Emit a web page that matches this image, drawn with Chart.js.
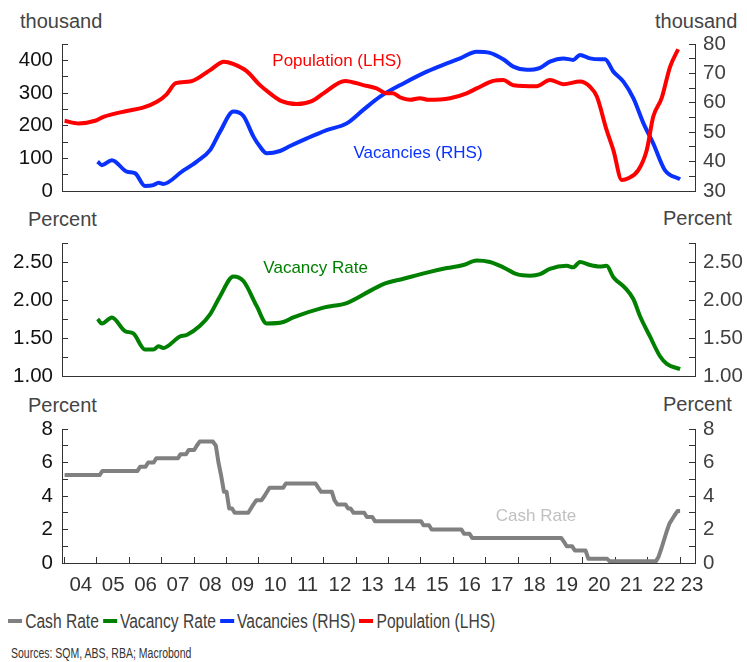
<!DOCTYPE html>
<html>
<head>
<meta charset="utf-8">
<script src="https://cdn.jsdelivr.net/npm/chart.js@4.4.1/dist/chart.umd.min.js"></script>
<style>
    body { margin: 0; background: #fff; width: 747px; height: 662px; position: relative; overflow: hidden;
           font-family: 'Liberation Sans', Arial, sans-serif; }
    canvas { position: absolute; left: 0; }
    .unit { position: absolute; font-size: 20px; line-height: 20px; color: #444; white-space: nowrap; }
    #legend { position: absolute; left: 8px; top: 609px; height: 24px; display: flex; align-items: center;
              font-size: 20px; color: #404040; white-space: nowrap; transform: scaleX(0.78); transform-origin: 0 0; }
    #legend .item { display: flex; align-items: center; margin-right: 5px; }
    #legend .mark { width: 18px; height: 4px; margin-right: 4px; }
    #sources { position: absolute; left: 11px; top: 646px; font-size: 14px; line-height: 14px; color: #333;
               white-space: nowrap; transform: scaleX(0.75); transform-origin: 0 0; }
</style>
</head>
<body>
<div class="unit" style="left:20px;top:11px">thousand</div>
<div class="unit" style="left:655px;top:11px">thousand</div>
<div class="unit" style="left:28px;top:209px">Percent</div>
<div class="unit" style="left:663px;top:208px">Percent</div>
<div class="unit" style="left:28px;top:395px">Percent</div>
<div class="unit" style="left:663px;top:394px">Percent</div>

<canvas id="top" width="747" height="205" style="top:0"></canvas>
<canvas id="mid" width="747" height="195" style="top:200px"></canvas>
<canvas id="bot" width="747" height="210" style="top:390px"></canvas>

<div id="legend"></div>
<div id="sources">Sources: SQM, ABS, RBA; Macrobond</div>

<script>
// x axis: decimal years
const yearLabels = ['04','05','06','07','08','09','10','11','12','13','14','15','16','17','18','19','20','21','22','23'];
const X_MIN = 2003.92, X_MAX = 2023.46;

// Population (LHS, thousand)
const popYears = [2004.0, 2004.43, 2004.94, 2005.2, 2005.92, 2006.42, 2006.85, 2007.15, 2007.43, 2007.87,
    2008.49, 2008.92, 2009.2, 2009.62, 2010.03, 2010.34, 2010.7, 2011.17, 2011.63, 2011.99,
    2012.66, 2013.22, 2013.63, 2013.94, 2014.14, 2014.35, 2014.66, 2014.97, 2015.23, 2015.9,
    2016.41, 2016.72, 2017.23, 2017.54, 2017.85, 2018.57, 2018.98, 2019.4, 2019.91, 2020.22,
    2020.43, 2020.73, 2020.94, 2021.2, 2021.4, 2021.71, 2021.97, 2022.17, 2022.43, 2022.69, 2022.94];
const popValues = [215, 207, 215, 227, 245, 255, 273, 296, 330, 335,
    370, 396, 389, 367, 324, 299, 275, 266, 275, 299,
    337, 324, 314, 299, 299, 287, 279, 284, 279, 284,
    299, 314, 337, 340, 324, 321, 340, 327, 335, 319,
    289, 187, 125, 34, 39, 64, 125, 227, 284, 380, 434];

// Vacancies (RHS, thousand)
const vacYears = [2005.02, 2005.15, 2005.46, 2005.92, 2006.18, 2006.48, 2006.74, 2006.9, 2007.05, 2007.62,
    2008.08, 2008.49, 2008.8, 2009.21, 2009.52, 2009.83, 2010.03, 2010.24, 2010.65, 2010.96,
    2011.48, 2012.09, 2012.71, 2013.22, 2013.74, 2014.46, 2015.18, 2015.8, 2016.21, 2016.72,
    2017.13, 2017.54, 2017.85, 2018.26, 2018.68, 2018.98, 2019.4, 2019.7, 2019.91, 2020.22,
    2020.53, 2020.68, 2020.94, 2021.25, 2021.56, 2021.87, 2022.17, 2022.53, 2023.0];
const vacValues = [40.0, 38.8, 40.5, 36.6, 36.0, 31.7, 32.0, 32.8, 32.4, 36.6,
    40.0, 43.9, 50.2, 57.0, 55.5, 48.5, 45.1, 42.8, 43.6, 45.3,
    47.9, 50.7, 53.0, 57.6, 62.1, 66.6, 70.6, 73.4, 75.1, 77.4,
    77.0, 74.8, 72.3, 71.2, 71.9, 74.0, 75.1, 74.6, 76.3, 75.1,
    74.8, 74.8, 70.6, 67.2, 61.5, 53.0, 46.2, 37.1, 34.0];

// Vacancy rate (percent)
const rateYears = [2005.02, 2005.15, 2005.46, 2005.87, 2006.12, 2006.48, 2006.74, 2006.9, 2007.05, 2007.56,
    2007.77, 2008.18, 2008.49, 2008.8, 2009.21, 2009.52, 2009.93, 2010.24, 2010.75, 2011.06,
    2011.99, 2012.71, 2013.43, 2013.84, 2014.46, 2015.18, 2015.8, 2016.31, 2016.72, 2017.13,
    2017.54, 2017.96, 2018.37, 2018.68, 2018.98, 2019.5, 2019.7, 2019.91, 2020.22, 2020.53,
    2020.73, 2020.94, 2021.3, 2021.56, 2021.76, 2022.07, 2022.38, 2022.59, 2023.0];
const rateValues = [1.75, 1.69, 1.77, 1.59, 1.56, 1.35, 1.35, 1.39, 1.37, 1.52,
    1.54, 1.66, 1.81, 2.05, 2.31, 2.25, 1.92, 1.69, 1.71, 1.77,
    1.90, 1.96, 2.12, 2.21, 2.28, 2.36, 2.42, 2.46, 2.52, 2.50,
    2.43, 2.34, 2.32, 2.34, 2.41, 2.45, 2.43, 2.50, 2.46, 2.44,
    2.45, 2.30, 2.16, 2.01, 1.79, 1.52, 1.26, 1.16, 1.09];

// Cash rate (percent), monthly change points
const cashYears = [2004.0, 2005.08, 2005.17, 2006.25, 2006.33, 2006.5, 2006.58, 2006.75, 2006.83, 2007.5,
    2007.58, 2007.75, 2007.83, 2008.0, 2008.08, 2008.17, 2008.58, 2008.67, 2008.75, 2008.83,
    2008.92, 2009.0, 2009.08, 2009.17, 2009.25, 2009.67, 2009.75, 2009.83, 2009.92, 2010.08,
    2010.17, 2010.25, 2010.33, 2010.75, 2010.83, 2011.75, 2011.83, 2011.92, 2012.25, 2012.33,
    2012.42, 2012.67, 2012.75, 2012.83, 2012.92, 2013.25, 2013.33, 2013.5, 2013.58, 2015.0,
    2015.08, 2015.25, 2015.33, 2016.25, 2016.33, 2016.5, 2016.58, 2019.33, 2019.42, 2019.5,
    2019.67, 2019.75, 2020.08, 2020.17, 2020.75, 2020.83, 2022.25, 2022.33, 2022.42, 2022.5,
    2022.58, 2022.67, 2022.75, 2022.83, 2022.92, 2023.0];
const cashValues = [5.25, 5.25, 5.5, 5.5, 5.75, 5.75, 6.0, 6.0, 6.25, 6.25,
    6.5, 6.5, 6.75, 6.75, 7.0, 7.25, 7.25, 7.0, 6.0, 5.25,
    4.25, 4.25, 3.25, 3.25, 3.0, 3.0, 3.25, 3.5, 3.75, 3.75,
    4.0, 4.25, 4.5, 4.5, 4.75, 4.75, 4.5, 4.25, 4.25, 3.75,
    3.5, 3.5, 3.25, 3.25, 3.0, 3.0, 2.75, 2.75, 2.5, 2.5,
    2.25, 2.25, 2.0, 2.0, 1.75, 1.75, 1.5, 1.5, 1.25, 1.0,
    1.0, 0.75, 0.75, 0.25, 0.25, 0.1, 0.1, 0.35, 0.85, 1.35,
    1.85, 2.35, 2.6, 2.85, 3.1, 3.1];

const series = [
    { name: 'Cash Rate', color: '#808080' },
    { name: 'Vacancy Rate', color: '#008000' },
    { name: 'Vacancies (RHS)', color: '#0a32ff' },
    { name: 'Population (LHS)', color: '#ff0000' }
];

const FONT = "'Liberation Sans', Arial, sans-serif";
const TICK_SIZE = 20.5;
const AXIS_COLOR = '#333';

const points = (xs, ys) => xs.map((x, i) => ({ x, y: ys[i] }));

const line = (label, color, data, yAxisID, extra) => Object.assign({
    label, data, yAxisID,
    borderColor: color,
    borderWidth: 4,
    pointRadius: 0,
    fill: false,
    tension: 0.25,
    cubicInterpolationMode: 'monotone',
    borderJoinStyle: 'round'
}, extra || {});

// text tags inside the plot, placed in data units
const seriesTags = {
    id: 'seriesTags',
    afterDatasetsDraw(chart, args, opts) {
        const ctx = chart.ctx;
        ctx.save();
        ctx.font = '17px ' + FONT;
        ctx.textAlign = 'center';
        ctx.textBaseline = 'middle';
        (opts.items || []).forEach(t => {
            ctx.fillStyle = t.color;
            ctx.fillText(t.text, chart.scales.x.getPixelForValue(t.x), chart.scales[t.axis].getPixelForValue(t.y));
        });
        ctx.restore();
    }
};

function xAxis(showLabels, height) {
    return {
        type: 'linear',
        min: X_MIN,
        max: X_MAX,
        border: { display: true, color: AXIS_COLOR, width: 1 },
        grid: showLabels ? {
            drawOnChartArea: false,
            drawTicks: true,
            tickLength: -6,
            color: c => (c.tick && Number.isInteger(c.tick.value)) ? AXIS_COLOR : 'rgba(0,0,0,0)'
        } : { drawOnChartArea: false, drawTicks: false },
        // tick marks at year starts, labels centred in each year
        afterBuildTicks: s => {
            const t = [];
            yearLabels.forEach((lab, i) => {
                t.push({ value: 2004 + i });
                t.push({ value: Math.min(2004 + i + 0.5, X_MAX - 0.09) });
            });
            s.ticks = t.filter(k => k.value <= X_MAX);
        },
        afterFit: s => { s.height = height; s.paddingLeft = 0; s.paddingRight = 0; },
        ticks: {
            display: showLabels,
            autoSkip: false,
            maxRotation: 0,
            padding: 16,
            color: '#333',
            font: { family: FONT, size: TICK_SIZE },
            callback: v => Number.isInteger(v) ? '' : yearLabels[Math.floor(v) - 2004]
        }
    };
}

function yAxis(side, min, max, step, every, digits) {
    const left = side === 'left';
    return {
        position: side,
        min, max,
        border: { display: true, color: AXIS_COLOR, width: 1 },
        grid: { drawOnChartArea: false, drawTicks: true, tickLength: -6, color: AXIS_COLOR },
        afterFit: s => { s.width = left ? 62 : 52; s.paddingTop = 0; s.paddingBottom = 0; },
        ticks: {
            stepSize: step,
            autoSkip: false,
            padding: left ? 15 : 14,
            color: left ? '#111' : '#404040',
            font: { family: FONT, size: TICK_SIZE },
            callback: v => {
                const r = v / every;
                return Math.abs(r - Math.round(r)) < 1e-6 ? v.toFixed(digits) : '';
            }
        }
    };
}

function makeChart(id, datasets, scales, padding, tags) {
    return new Chart(document.getElementById(id), {
        type: 'line',
        data: { datasets },
        options: {
            responsive: false,
            animation: false,
            events: [],
            layout: { padding, autoPadding: false },
            plugins: {
                legend: { display: false },
                tooltip: { enabled: false },
                seriesTags: { items: tags }
            },
            scales
        },
        plugins: [seriesTags]
    });
}

makeChart('top', [
    line(series[3].name, series[3].color, points(popYears, popValues), 'yL'),
    line(series[2].name, series[2].color, points(vacYears, vacValues), 'yR')
], {
    x: xAxis(false, 0),
    yL: yAxis('left', 0, 450, 50, 100, 0),
    yR: yAxis('right', 30, 80, 5, 10, 0)
}, { top: 44, bottom: 14, left: 0, right: 0 }, [
    { text: 'Population (LHS)', color: series[3].color, x: 2012.41, y: 398, axis: 'yL' },
    { text: 'Vacancies (RHS)', color: series[2].color, x: 2014.91, y: 114, axis: 'yL' }
]);

makeChart('mid', [
    line(series[1].name, series[1].color, points(rateYears, rateValues), 'yL')
], {
    x: xAxis(false, 0),
    yL: yAxis('left', 1, 2.75, 0.25, 0.5, 2),
    yR: yAxis('right', 1, 2.75, 0.25, 0.5, 2)
}, { top: 43, bottom: 19, left: 0, right: 0 }, [
    { text: 'Vacancy Rate', color: series[1].color, x: 2011.75, y: 2.42, axis: 'yL' }
]);

makeChart('bot', [
    line(series[0].name, series[0].color, points(cashYears, cashValues), 'yL', { tension: 0, cubicInterpolationMode: 'default' })
], {
    x: xAxis(true, 37),
    yL: yAxis('left', 0, 8, 1, 2, 0),
    yR: yAxis('right', 0, 8, 1, 2, 0)
}, { top: 39, bottom: 0, left: 0, right: 0 }, [
    { text: 'Cash Rate', color: '#c0c0c0', x: 2018.55, y: 2.76, axis: 'yL' }
]);

// legend below the charts
const legend = document.getElementById('legend');
series.forEach(s => {
    const item = document.createElement('div');
    item.className = 'item';
    item.innerHTML = `<span class="mark" style="background:${s.color}"></span><span>${s.name}</span>`;
    legend.appendChild(item);
});
</script>
</body>
</html>
